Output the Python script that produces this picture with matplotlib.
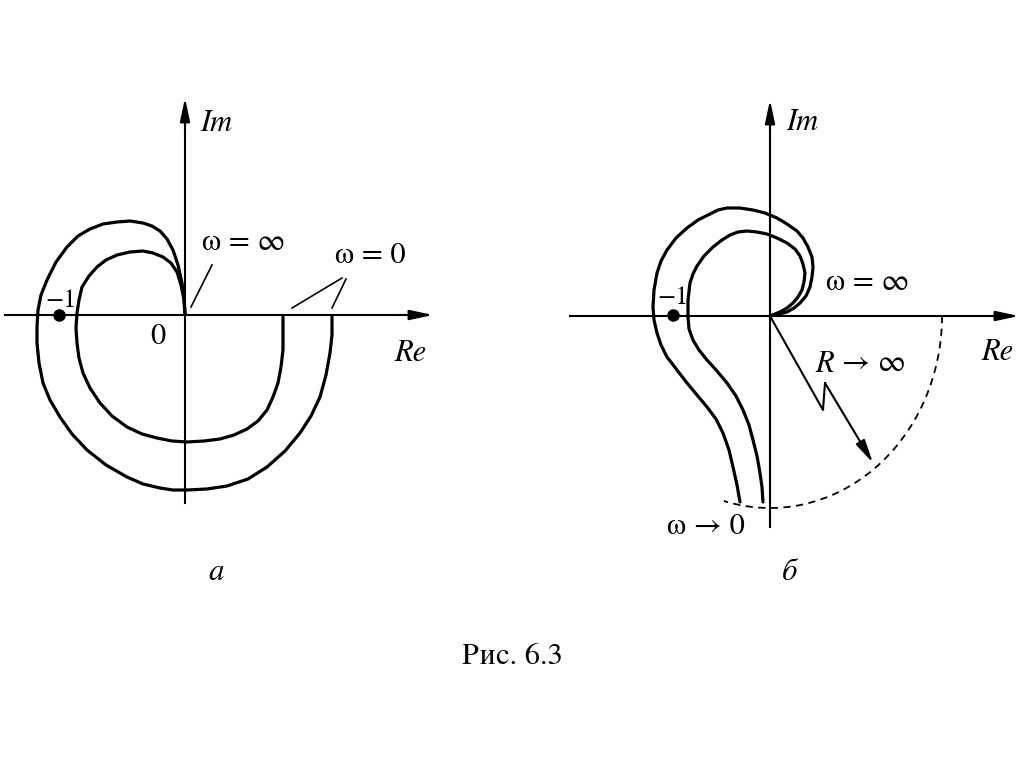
import numpy as np
import matplotlib
matplotlib.use("Agg")
import matplotlib.pyplot as plt
from matplotlib.patches import Arc

plt.rcParams['font.family'] = ['STIXGeneral', 'Liberation Serif', 'DejaVu Serif']

# ===== координаты кривых (в пикселях рисунка, y вниз) =====
# рис. а — внешний годограф
a_outer_x = [185, 184, 182, 178, 173, 167, 160, 152, 143, 130, 117, 103, 90, 78, 67, 56, 47, 41, 38, 37,
             37, 39, 43, 50, 60, 72, 87, 106, 127, 143, 160, 173, 187, 207, 227, 248, 267, 285, 300, 311,
             320, 326, 330, 332, 332]
a_outer_y = [314, 298, 283, 265, 250, 239, 231, 226, 223, 221, 222, 224, 229, 236, 247, 262, 280, 295, 310, 327,
             343, 363, 383, 400, 417, 434, 450, 465, 477, 484, 488, 490, 490, 489, 486, 479, 467, 451, 433, 416,
             397, 375, 353, 335, 317]
# рис. а — внутренний годограф
a_inner_x = [185, 184, 181, 177, 171, 163, 153, 143, 130, 117, 106, 97, 89, 82, 79, 77, 76, 77, 79, 83,
             90, 100, 112, 127, 142, 157, 172, 187, 204, 220, 234, 247, 258, 267, 273, 278, 281, 283, 283, 283]
a_inner_y = [314, 300, 285, 272, 263, 257, 253, 251, 252, 255, 260, 267, 276, 287, 300, 313, 328, 343, 358, 373,
             388, 403, 416, 427, 434, 438, 441, 442, 441, 439, 435, 429, 421, 410, 397, 383, 367, 350, 333, 317]

# рис. б — внешний годограф
b_outer_x = [740, 737, 733, 729, 723, 716, 707, 697, 687, 677, 667, 661, 657, 654, 653, 654, 657, 661, 667, 676,
             687, 698, 710, 718, 727, 740, 753, 765, 777, 787, 797, 803, 808, 812, 813, 812, 810, 806, 800, 794,
             787, 779, 770]
b_outer_y = [502, 485, 467, 450, 433, 419, 407, 395, 383, 370, 357, 345, 333, 320, 307, 290, 273, 261, 250, 238,
             228, 220, 214, 210, 208, 208, 210, 213, 218, 224, 231, 238, 247, 257, 267, 277, 287, 296, 303, 308,
             312, 314, 316]
# рис. б — внутренний годограф
b_inner_x = [763, 762, 760, 757, 753, 749, 743, 736, 727, 717, 707, 699, 693, 689, 688, 688, 690, 693, 697, 704,
             713, 722, 730, 738, 747, 757, 767, 777, 787, 795, 800, 803, 805, 804, 802, 798, 793, 787, 780, 775, 770]
b_inner_y = [502, 487, 473, 456, 440, 425, 410, 396, 383, 371, 360, 350, 340, 329, 317, 300, 283, 274, 266, 256,
             247, 240, 235, 232, 231, 232, 234, 238, 243, 249, 256, 264, 273, 282, 290, 297, 303, 308, 312, 314, 316]

# стрелка R -> oo (ломаная)
r_arrow_x = [770, 823, 825]
r_arrow_y = [316, 410, 383]
r_tip = (873, 463)

# полуокружность R -> oo: центр, полуоси, углы
arc_center = (770, 316)
arc_w, arc_h = 344, 384
arc_t1, arc_t2 = 0, 104

# точки -1
m1_x = [59, 673]
m1_y = [315, 315]

# ===== рисунок =====
fig = plt.figure(figsize=(10.24, 7.67), dpi=100)
ax = fig.add_axes([0, 0, 1, 1])
ax.set_xlim(0, 1024)
ax.set_ylim(767, 0)
ax.axis('off')

ap = dict(arrowstyle='-|>,head_length=1.4,head_width=0.3', lw=1.5, color='k', shrinkA=0, shrinkB=0)

# оси рис. а
ax.plot([5, 420], [315, 315], color='k', lw=1.5)
ax.annotate('', xy=(433, 315), xytext=(400, 315), arrowprops=ap)
ax.plot([185, 185], [503, 120], color='k', lw=1.5)
ax.annotate('', xy=(185, 98), xytext=(185, 130), arrowprops=ap)
# оси рис. б
ax.plot([570, 1000], [316, 316], color='k', lw=1.5)
ax.annotate('', xy=(1019, 316), xytext=(990, 316), arrowprops=ap)
ax.plot([770, 770], [527, 120], color='k', lw=1.5)
ax.annotate('', xy=(770, 100), xytext=(770, 130), arrowprops=ap)

kw = dict(color='k', lw=2.3, solid_joinstyle='round', solid_capstyle='round')
ax.plot(a_outer_x, a_outer_y, **kw)
ax.plot(a_inner_x, a_inner_y, **kw)
ax.plot(b_outer_x, b_outer_y, **kw)
ax.plot(b_inner_x, b_inner_y, **kw)

ax.plot(m1_x, m1_y, 'o', color='k', markersize=8)

# пунктирная дуга
ax.add_patch(Arc(arc_center, arc_w, arc_h, theta1=arc_t1, theta2=arc_t2,
                 color='k', lw=1.3, linestyle=(0, (4, 3))))

# стрелка R -> oo
ax.plot(r_arrow_x, r_arrow_y, color='k', lw=1.5)
ax.annotate('', xy=r_tip, xytext=(r_arrow_x[-1], r_arrow_y[-1]), arrowprops=ap)

# выноски рис. а
ax.plot([191, 212], [307, 265], color='k', lw=1.2)
ax.plot([292, 342], [308, 278], color='k', lw=1.2)
ax.plot([332, 346], [308, 279], color='k', lw=1.2)

# подписи
fs = 22
ax.text(200, 123, 'Im', fontsize=fs, style='italic', ha='left', va='center')
ax.text(786, 122, 'Im', fontsize=fs, style='italic', ha='left', va='center')
ax.text(394, 353, 'Re', fontsize=fs, style='italic', ha='left', va='center')
ax.text(981, 352, 'Re', fontsize=fs, style='italic', ha='left', va='center')
ax.text(61, 301, '−1', fontsize=19, ha='center', va='center')
ax.text(673, 298, '−1', fontsize=19, ha='center', va='center')
ax.text(158, 337, '0', fontsize=fs, ha='center', va='center')
ax.text(244, 243, 'ω = ∞', fontsize=fs, ha='center', va='center')
ax.text(370, 256, 'ω = 0', fontsize=fs, ha='center', va='center')
ax.text(868, 283, 'ω = ∞', fontsize=fs, ha='center', va='center')
ax.text(815, 364, 'R', fontsize=fs, style='italic', ha='left', va='center')
ax.text(874, 364, '→ ∞', fontsize=fs, ha='center', va='center')
ax.text(706, 527, 'ω → 0', fontsize=fs, ha='center', va='center')
ax.text(216, 572, 'а', fontsize=fs, style='italic', ha='center', va='center')
ax.text(790, 572, 'б', fontsize=fs, style='italic', ha='center', va='center')
ax.text(512, 657, 'Рис. 6.3', fontsize=fs, ha='center', va='center')

fig.savefig('out.png', dpi=100)
